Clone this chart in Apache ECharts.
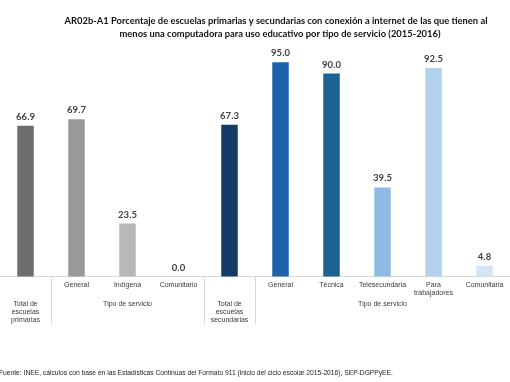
<!DOCTYPE html>
<html>
<head>
<meta charset="utf-8">
<script src="https://cdn.jsdelivr.net/npm/echarts@6/dist/echarts.min.js"></script>
<style>html,body{margin:0;padding:0;background:#fff}#c{width:510px;height:382px}</style>
</head>
<body>
<div id="c"></div>
<script>
const categories = ["Total de escuelas primarias", "General", "Indígena", "Comunitario", "Total de escuelas secundarias", "General ", "Técnica", "Telesecundaria", "Para trabajadores", "Comunitaria"];
const level1Labels = ["", "General", "Indígena", "Comunitario", "", "General", "Técnica", "Telesecundaria", "Para\ntrabajadores", "Comunitaria"];
const level2Labels = ["Total de\nescuelas\nprimarias", "", "Tipo de servicio", "", "Total de\nescuelas\nsecundarias", "", "", "Tipo de servicio", "", ""];
const values = [66.9, 69.7, 23.5, 0.0, 67.3, 95.0, 90.0, 39.5, 92.5, 4.8];
const barColors = ["#6d6d6d", "#999999", "#b8b8b8", "#d0d0d0", "#123b67", "#1c63ab", "#1c6394", "#8fbae3", "#b3d1ed", "#d5e5f6"];
const titleLines = ["AR02b-A1 Porcentaje de escuelas primarias y secundarias con conexión a internet de las que tienen al",
                    "menos una computadora para uso educativo por tipo de servicio (2015-2016)"];
const sourceText = "Fuente: INEE, cálculos con base en las Estadísticas Continuas del Formato 911 (inicio del ciclo escolar 2015-2016), SEP-DGPPyEE.";

const chart = echarts.init(document.getElementById('c'), null, {renderer: 'canvas'});
const separatorIdx = [1, 4, 5];
const titleFont = 'bold 9.4px Lato';
chart.setOption({
  animation: false,
  backgroundColor: '#ffffff',
  graphic: [
    {type: 'text', x: 276, y: 21, style: {text: titleLines[0], font: titleFont, fill: '#111', align: 'center', verticalAlign: 'middle'}},
    {type: 'text', x: 280, y: 33.5, style: {text: titleLines[1], font: titleFont, fill: '#111', align: 'center', verticalAlign: 'middle'}},
    {type: 'text', x: -1, y: 373, style: {text: sourceText, font: '6.7px "Liberation Sans"', fill: '#222', align: 'left', verticalAlign: 'middle'}}
  ],
  grid: {left: -3, right: -7.5, top: 51, bottom: 105.5, containLabel: false},
  xAxis: [
    {type: 'category', data: categories, gridIndex: 0, position: 'bottom',
     axisLine: {show: true, lineStyle: {color: '#d9d9d9', width: 1}},
     axisTick: {show: false},
     axisLabel: {interval: 0, margin: 5, fontFamily: 'Liberation Sans', fontSize: 7, lineHeight: 8, color: '#3a3a3a',
       verticalAlign: 'top', formatter: (v, i) => level1Labels[i]}},
    {type: 'category', data: categories, gridIndex: 0, position: 'bottom',
     axisLine: {show: false},
     axisTick: {show: true, length: 48, inside: false, lineStyle: {color: '#d9d9d9', width: 1},
       interval: (i) => separatorIdx.indexOf(i) >= 0},
     axisLabel: {interval: 0, margin: 24, fontFamily: 'Liberation Sans', fontSize: 7, lineHeight: 8, color: '#3a3a3a',
       verticalAlign: 'top', formatter: (v, i) => level2Labels[i]}}
  ],
  yAxis: {type: 'value', min: 0, max: 100, show: false, splitLine: {show: false}},
  series: [{
    type: 'bar', xAxisIndex: 0, barWidth: 16.5,
    data: values.map((v, i) => ({value: v, itemStyle: {color: barColors[i]}})),
    label: {show: true, position: 'top', distance: 4, formatter: p => p.value.toFixed(1),
      fontFamily: 'Lato', fontWeight: 'bold', fontSize: 9.5, color: '#404040'}
  }]
});
</script>
</body>
</html>
